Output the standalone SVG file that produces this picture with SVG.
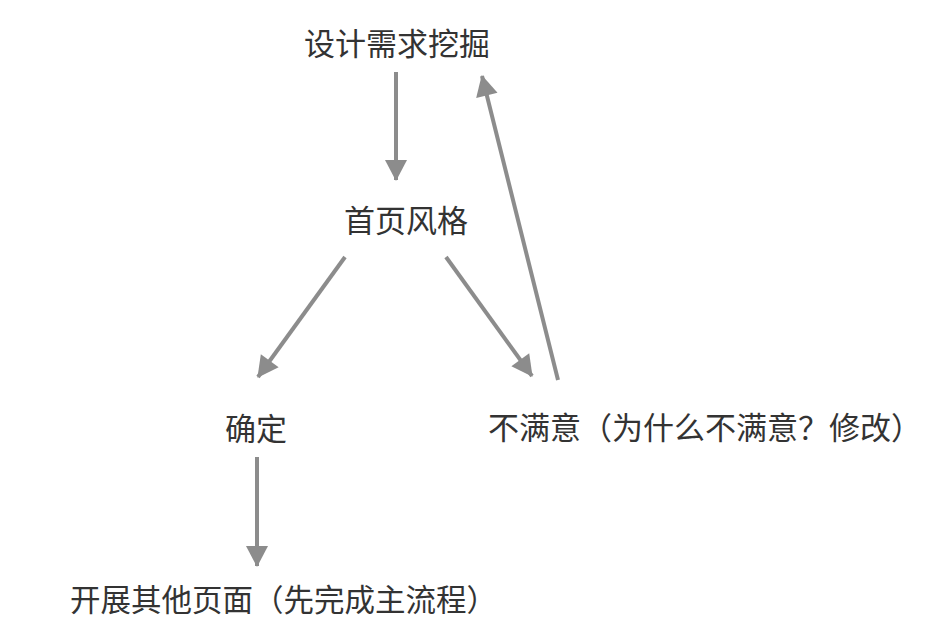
<svg xmlns="http://www.w3.org/2000/svg" width="937" height="622" viewBox="0 0 937 622">
<style>
.t{font-family:"Noto Sans CJK SC","Noto Sans",sans-serif;font-size:31px;fill:#333;dominant-baseline:central}
.c{stroke:#8c8c8c;stroke-width:4;fill:none}
</style>
<defs>
<marker id="ah" markerUnits="userSpaceOnUse" markerWidth="24" markerHeight="24" viewBox="0 0 22 24" refX="20" refY="12" orient="auto">
<path d="M0,1 L21,12 L0,23 Z" fill="#8c8c8c"/>
</marker>
</defs>
<rect width="937" height="622" fill="#fff"/>
<g id="connectors">
<line class="c" x1="396" y1="72" x2="396" y2="180" marker-end="url(#ah)"/>
<line class="c" x1="345" y1="257" x2="258" y2="377" marker-end="url(#ah)"/>
<line class="c" x1="446" y1="257" x2="532" y2="376" marker-end="url(#ah)"/>
<line class="c" x1="558" y1="380" x2="482" y2="76" marker-end="url(#ah)"/>
<line class="c" x1="257" y1="457" x2="257" y2="566" marker-end="url(#ah)"/>
</g>
<g id="n1"><text class="t" x="397" y="41" text-anchor="middle">设计需求挖掘</text></g>
<g id="n2"><text class="t" x="406" y="218" text-anchor="middle">首页风格</text></g>
<g id="n3"><text class="t" x="256" y="426" text-anchor="middle">确定</text></g>
<g id="n4"><text class="t" x="488" y="425">不满意（为什么不满意？修改）</text></g>
<g id="n5"><text class="t" x="70" y="598" style="font-size:30.5px">开展其他页面（先完成主流程）</text></g>
</svg>
